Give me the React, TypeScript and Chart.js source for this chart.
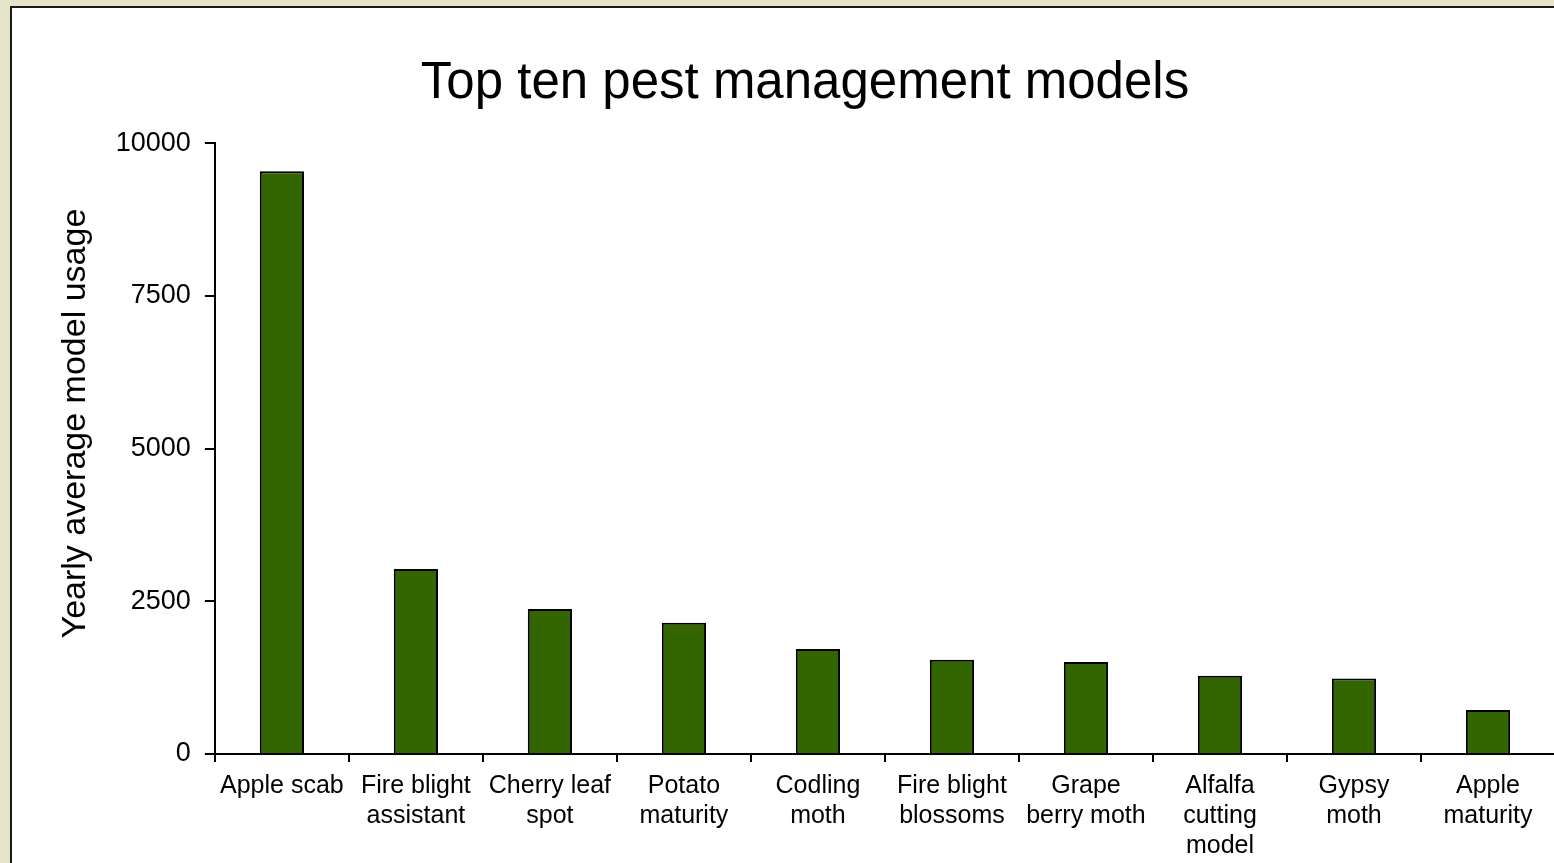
import React, { useEffect, useRef } from "react";
import { Chart, registerables } from "chart.js";

Chart.register(...registerables);

const categories: (string | string[])[] = [
  "Apple scab",
  ["Fire blight", "assistant"],
  ["Cherry leaf", "spot"],
  ["Potato", "maturity"],
  ["Codling", "moth"],
  ["Fire blight", "blossoms"],
  ["Grape", "berry moth"],
  ["Alfalfa", "cutting", "model"],
  ["Gypsy", "moth"],
  ["Apple", "maturity"],
];

const usage: number[] = [9540, 3030, 2375, 2150, 1720, 1545, 1505, 1280, 1235, 720];

const yTicks: number[] = [0, 2500, 5000, 7500, 10000];

const titleText = "Top ten pest management models";
const yTitle = "Yearly average model usage";

const FONT = "'Liberation Sans', Arial, Helvetica, sans-serif";
const Y_TITLE_SIZE = 34;

// Draws the y-axis title at the reserved title slot, slightly above the axis middle (as in the original)
const yTitlePlugin = {
  id: "yTitleShift",
  afterDraw(chart: any) {
    const scale = chart.scales.y;
    const area = chart.chartArea;
    const ctx = chart.ctx;
    const lh = Y_TITLE_SIZE * 1.2;
    const x = scale.left + lh / 2;
    const y = (area.top + area.bottom) / 2 - (area.bottom - area.top) * 0.041;
    ctx.save();
    ctx.translate(x, y);
    ctx.rotate(-Math.PI / 2);
    ctx.fillStyle = "#000";
    ctx.font = `${Y_TITLE_SIZE}px ${FONT}`;
    ctx.textAlign = "center";
    ctx.textBaseline = "middle";
    ctx.fillText(yTitle, 0, 0);
    ctx.restore();
  },
};

export default function App() {
  const ref = useRef<HTMLCanvasElement | null>(null);

  useEffect(() => {
    if (!ref.current) return;
    const chart = new Chart(ref.current, {
      type: "bar",
      data: {
        labels: categories,
        datasets: [
          {
            data: usage,
            backgroundColor: "#336600",
            borderColor: "#000000",
            borderWidth: 2,
            categoryPercentage: 1,
            barPercentage: 0.33,
          },
        ],
      },
      plugins: [yTitlePlugin],
      options: {
        responsive: false,
        animation: false,
        devicePixelRatio: 1,
        layout: { padding: { left: 43, right: 67, top: 45, bottom: 8 } },
        plugins: {
          legend: { display: false },
          tooltip: { enabled: false },
          title: {
            display: true,
            text: titleText,
            color: "#000",
            font: { family: FONT, size: 51, weight: "normal" },
            padding: { top: 0, bottom: 29 },
          },
        },
        scales: {
          x: {
            grid: {
              display: true,
              drawOnChartArea: false,
              drawTicks: true,
              tickLength: 8,
              color: "#000",
              lineWidth: 2,
              offset: true,
            },
            border: { color: "#000", width: 2 },
            ticks: {
              color: "#000",
              font: { family: FONT, size: 25 },
              padding: 9,
              maxRotation: 0,
              minRotation: 0,
              autoSkip: false,
            },
          },
          y: {
            min: 0,
            max: 10000,
            afterBuildTicks: (scale: any) => {
              scale.ticks = yTicks.map((v) => ({ value: v }));
            },
            grid: {
              display: true,
              drawOnChartArea: false,
              drawTicks: true,
              tickLength: 10,
              color: "#000",
              lineWidth: 2,
            },
            border: { color: "#000", width: 2 },
            ticks: {
              color: "#000",
              font: { family: FONT, size: 27 },
              padding: 14,
              callback: (v: any) => String(v),
            },
            title: {
              display: true,
              text: yTitle,
              color: "rgba(0,0,0,0)",
              font: { family: FONT, size: Y_TITLE_SIZE },
              padding: { top: 0, bottom: 6 },
            },
          },
        },
      },
    });
    return () => chart.destroy();
  }, []);

  return (
    <div
      style={{
        position: "fixed",
        inset: 0,
        background: "#E5E3C9",
        overflow: "hidden",
      }}
    >
      <div
        style={{
          position: "absolute",
          left: 10,
          top: 6,
          width: 1700,
          height: 1000,
          background: "#ffffff",
          border: "2px solid #1a1a1a",
        }}
      >
        <canvas
          ref={ref}
          width={1610}
          height={870}
          style={{ display: "block", width: 1610, height: 870 }}
        />
      </div>
    </div>
  );
}
